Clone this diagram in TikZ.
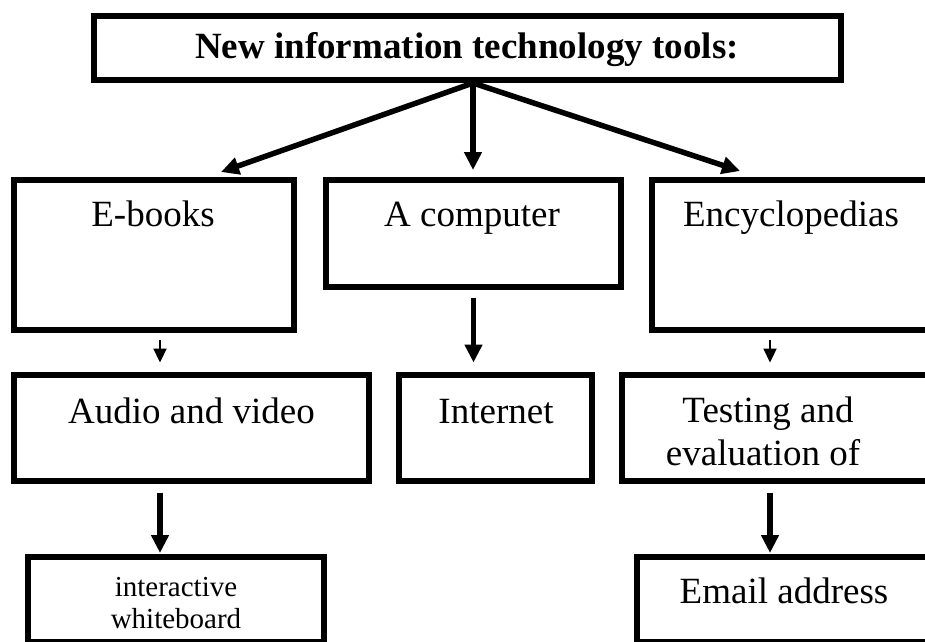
\documentclass[tikz,border=0pt]{standalone}
\usepackage{fontspec}
\setmainfont{Liberation Serif}
\usetikzlibrary{arrows.meta}
\tikzset{
  box/.style={draw=black, line width=6pt, rectangle, inner sep=0pt},
  txt/.style={inner sep=0pt, anchor=base, font=\fontsize{37}{44}\selectfont},
  smalltxt/.style={inner sep=0pt, anchor=base, font=\fontsize{29}{35}\selectfont},
  titletxt/.style={inner sep=0pt, anchor=base, font=\fontsize{37}{44}\selectfont\bfseries},
  bigarrow/.style={line width=5.5pt, -{Triangle[length=18pt,width=17pt]}},
  smallarrow/.style={line width=2.2pt, -{Triangle[length=14pt,width=13pt]}}
}
\begin{document}
\begin{tikzpicture}[x=1pt,y=-1pt]
\useasboundingbox (0,0) rectangle (925,641);
\clip (0,0) rectangle (925,641);
% boxes
\node[box, minimum width=747pt, minimum height=64pt] (top) at (467.5,47.5) {};
\node[box, minimum width=280pt, minimum height=150pt] (ebooks) at (154,255) {};
\node[box, minimum width=295pt, minimum height=107pt] (computer) at (473.5,233.5) {};
\node[box, minimum width=288pt, minimum height=150pt] (encyc) at (796,255) {};
\node[box, minimum width=355pt, minimum height=106pt] (audio) at (191.5,427.5) {};
\node[box, minimum width=193pt, minimum height=106pt] (internet) at (495.5,427.5) {};
\node[box, minimum width=318pt, minimum height=106pt] (testing) at (781,427.5) {};
\node[box, minimum width=296pt, minimum height=85pt] (board) at (176,599.5) {};
\node[box, minimum width=303pt, minimum height=85pt] (email) at (788.5,599.5) {};
% texts
\node[titletxt] (ttop) at (467,58) {New information technology tools:};
\node[txt] (tebooks) at (153,226) {E-books};
\node[txt] (tcomputer) at (472,226) {A computer};
\node[txt] (tencyc) at (791,226) {Encyclopedias};
\node[txt] (taudio) at (191.5,423) {Audio and video};
\node[txt] (tinternet) at (496,423) {Internet};
\node[txt] (ttesting1) at (768,422) {Testing and};
\node[txt] (ttesting2) at (763,465) {evaluation of};
\node[smalltxt] (tboard1) at (176,596) {interactive};
\node[smalltxt] (tboard2) at (176,628) {whiteboard};
\node[txt] (temail) at (784,603) {Email address};
% connectors
\coordinate (hub) at (473,83);
\coordinate (endL) at (221,172);
\coordinate (endC) at (473,170);
\coordinate (endR) at (740,171);
\coordinate (colL) at (160,0);
\coordinate (colR) at (770,0);
\draw[bigarrow] (hub) -- (endL);
\draw[bigarrow] (hub) -- (endC);
\draw[bigarrow] (hub) -- (endR);
\draw[smallarrow] ([yshift=-7pt]ebooks.south -| colL) -- ([yshift=9pt]audio.north -| colL);
\draw[smallarrow] ([yshift=-7pt]encyc.south -| colR) -- ([yshift=9pt]testing.north -| colR);
\draw[bigarrow] ([yshift=-8pt]computer.south) -- ([yshift=9pt]computer.south |- internet.north);
\draw[bigarrow] ([yshift=-9pt]audio.south -| colL) -- ([yshift=1pt]board.north -| colL);
\draw[bigarrow] ([yshift=-9pt]testing.south -| colR) -- ([yshift=1pt]email.north -| colR);
\end{tikzpicture}
\end{document}
